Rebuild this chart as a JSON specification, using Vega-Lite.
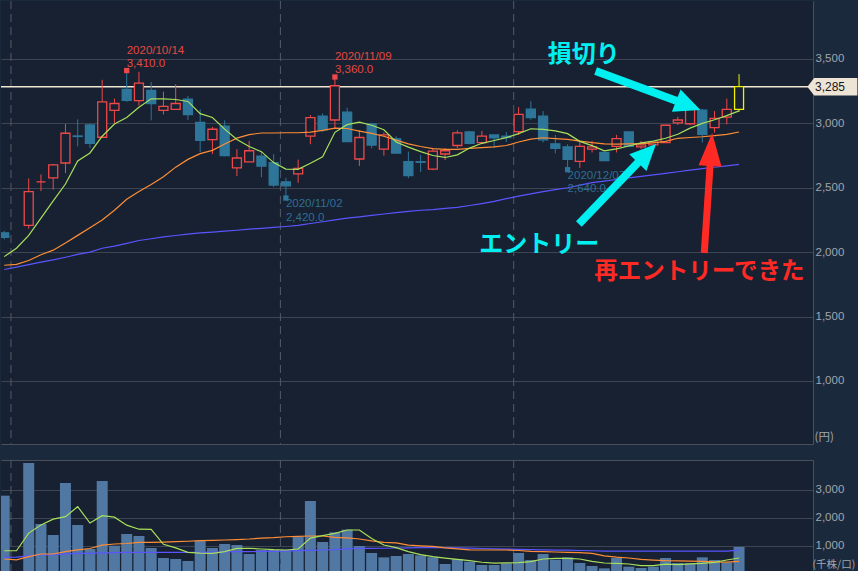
{
  "$schema": "https://vega.github.io/schema/vega-lite/v6.json",
  "background": "#1b293c",
  "padding": 0,
  "spacing": 14,
  "config": {
    "view": {"fill": "#172131", "stroke": null},
    "font": "Liberation Sans",
    "axis": {"labelFont": "Liberation Sans", "titleFont": "Noto Sans CJK JP"}
  },
  "datasets": {
    "bars": [
      {"i":0,"d":"2020-09-30","o":2150,"h":2165,"l":2100,"c":2115,"dir":"down","v":2797,"m5":1965,"m25":1898,"m75":1865,"vm5":830,"vm25":536,"vm75":595},
      {"i":1,"d":"2020-10-01","o":null,"h":null,"l":null,"c":null,"dir":null,"v":null,"m5":2030,"m25":1905,"m75":1884,"vm5":830,"vm25":505,"vm75":600},
      {"i":2,"d":"2020-10-02","o":2208,"h":2572,"l":2182,"c":2469,"dir":"up","v":3964,"m5":2130,"m25":1935,"m75":1903,"vm5":1460,"vm25":620,"vm75":650},
      {"i":3,"d":"2020-10-05","o":2546,"h":2603,"l":2474,"c":2546,"dir":"up","v":1786,"m5":2264,"m25":1980,"m75":1922,"vm5":1750,"vm25":714,"vm75":679},
      {"i":4,"d":"2020-10-06","o":2577,"h":2685,"l":2485,"c":2677,"dir":"up","v":1393,"m5":2398,"m25":2015,"m75":1940,"vm5":1960,"vm25":714,"vm75":679},
      {"i":5,"d":"2020-10-07","o":2692,"h":2995,"l":2613,"c":2923,"dir":"up","v":3250,"m5":2529,"m25":2070,"m75":1960,"vm5":2050,"vm25":800,"vm75":720},
      {"i":6,"d":"2020-10-08","o":2902,"h":3031,"l":2821,"c":2898,"dir":"down","v":1750,"m5":2708,"m25":2130,"m75":1982,"vm5":2404,"vm25":860,"vm75":738},
      {"i":7,"d":"2020-10-09","o":2987,"h":2997,"l":2808,"c":2844,"dir":"down","v":893,"m5":2770,"m25":2190,"m75":2000,"vm5":1821,"vm25":910,"vm75":740},
      {"i":8,"d":"2020-10-12","o":2892,"h":3338,"l":2885,"c":3167,"dir":"up","v":3321,"m5":2900,"m25":2250,"m75":2030,"vm5":2083,"vm25":1030,"vm75":755},
      {"i":9,"d":"2020-10-13","o":3100,"h":3192,"l":3000,"c":3154,"dir":"up","v":1012,"m5":2995,"m25":2325,"m75":2046,"vm5":2030,"vm25":1071,"vm75":762},
      {"i":10,"d":"2020-10-14","o":3264,"h":3410,"l":3167,"c":3179,"dir":"down","v":1428,"m5":3045,"m25":2410,"m75":2068,"vm5":1745,"vm25":1090,"vm75":770},
      {"i":11,"d":"2020-10-15","o":3177,"h":3400,"l":3138,"c":3313,"dir":"up","v":1357,"m5":3125,"m25":2470,"m75":2090,"vm5":1600,"vm25":1131,"vm75":774},
      {"i":12,"d":"2020-10-16","o":3256,"h":3321,"l":3023,"c":3154,"dir":"down","v":928,"m5":3190,"m25":2525,"m75":2104,"vm5":1595,"vm25":1131,"vm75":774},
      {"i":13,"d":"2020-10-19","o":3100,"h":3246,"l":3069,"c":3131,"dir":"up","v":571,"m5":3190,"m25":2585,"m75":2118,"vm5":1060,"vm25":1140,"vm75":774},
      {"i":14,"d":"2020-10-20","o":3108,"h":3303,"l":3105,"c":3154,"dir":"up","v":536,"m5":3185,"m25":2660,"m75":2129,"vm5":935,"vm25":1155,"vm75":774},
      {"i":15,"d":"2020-10-21","o":3187,"h":3213,"l":3026,"c":3067,"dir":"down","v":464,"m5":3170,"m25":2720,"m75":2140,"vm5":774,"vm25":1170,"vm75":774},
      {"i":16,"d":"2020-10-22","o":3008,"h":3108,"l":2777,"c":2867,"dir":"down","v":1190,"m5":3075,"m25":2765,"m75":2149,"vm5":745,"vm25":1190,"vm75":774},
      {"i":17,"d":"2020-10-23","o":2874,"h":2972,"l":2762,"c":2954,"dir":"up","v":928,"m5":3045,"m25":2790,"m75":2156,"vm5":738,"vm25":1200,"vm75":780},
      {"i":18,"d":"2020-10-26","o":2979,"h":3023,"l":2744,"c":2749,"dir":"down","v":1071,"m5":2955,"m25":2840,"m75":2163,"vm5":800,"vm25":1214,"vm75":790},
      {"i":19,"d":"2020-10-27","o":2654,"h":2800,"l":2590,"c":2731,"dir":"up","v":1036,"m5":2875,"m25":2885,"m75":2170,"vm5":916,"vm25":1230,"vm75":797},
      {"i":20,"d":"2020-10-28","o":2700,"h":2864,"l":2700,"c":2787,"dir":"up","v":714,"m5":2820,"m25":2912,"m75":2178,"vm5":920,"vm25":1250,"vm75":800},
      {"i":21,"d":"2020-10-29","o":2746,"h":2782,"l":2582,"c":2667,"dir":"down","v":857,"m5":2780,"m25":2925,"m75":2185,"vm5":893,"vm25":1280,"vm75":805},
      {"i":22,"d":"2020-10-30","o":2695,"h":2762,"l":2505,"c":2521,"dir":"down","v":857,"m5":2695,"m25":2925,"m75":2192,"vm5":870,"vm25":1297,"vm75":809},
      {"i":23,"d":"2020-11-02","o":2546,"h":2577,"l":2420,"c":2515,"dir":"down","v":857,"m5":2645,"m25":2927,"m75":2199,"vm5":857,"vm25":1330,"vm75":820},
      {"i":24,"d":"2020-11-04","o":2608,"h":2718,"l":2538,"c":2651,"dir":"up","v":1333,"m5":2643,"m25":2927,"m75":2208,"vm5":893,"vm25":1345,"vm75":833},
      {"i":25,"d":"2020-11-05","o":2900,"h":3064,"l":2838,"c":3044,"dir":"up","v":2607,"m5":2690,"m25":2932,"m75":2222,"vm5":1280,"vm25":1357,"vm75":845},
      {"i":26,"d":"2020-11-06","o":3056,"h":3077,"l":2933,"c":2949,"dir":"down","v":1143,"m5":2740,"m25":2945,"m75":2236,"vm5":1369,"vm25":1357,"vm75":857},
      {"i":27,"d":"2020-11-09","o":3026,"h":3360,"l":2962,"c":3292,"dir":"up","v":1488,"m5":2930,"m25":2963,"m75":2251,"vm5":1450,"vm25":1309,"vm75":869},
      {"i":28,"d":"2020-11-10","o":3087,"h":3121,"l":2855,"c":2859,"dir":"down","v":1583,"m5":2990,"m25":2960,"m75":2264,"vm5":1571,"vm25":1290,"vm75":900},
      {"i":29,"d":"2020-11-11","o":2723,"h":2946,"l":2669,"c":2890,"dir":"up","v":1000,"m5":3010,"m25":2940,"m75":2274,"vm5":1571,"vm25":1250,"vm75":916},
      {"i":30,"d":"2020-11-12","o":2995,"h":3005,"l":2805,"c":2831,"dir":"down","v":750,"m5":2985,"m25":2922,"m75":2286,"vm5":1270,"vm25":1180,"vm75":916},
      {"i":31,"d":"2020-11-13","o":2800,"h":2928,"l":2749,"c":2910,"dir":"up","v":595,"m5":2950,"m25":2900,"m75":2296,"vm5":1036,"vm25":1131,"vm75":920},
      {"i":32,"d":"2020-11-16","o":2880,"h":2900,"l":2765,"c":2769,"dir":"down","v":643,"m5":2855,"m25":2870,"m75":2306,"vm5":940,"vm25":1110,"vm75":928},
      {"i":33,"d":"2020-11-17","o":2703,"h":2780,"l":2574,"c":2595,"dir":"down","v":714,"m5":2815,"m25":2840,"m75":2316,"vm5":800,"vm25":1030,"vm75":935},
      {"i":34,"d":"2020-11-18","o":2702,"h":2754,"l":2623,"c":2698,"dir":"down","v":667,"m5":2780,"m25":2820,"m75":2325,"vm5":690,"vm25":1005,"vm75":945},
      {"i":35,"d":"2020-11-19","o":2644,"h":2808,"l":2636,"c":2785,"dir":"up","v":600,"m5":2750,"m25":2803,"m75":2330,"vm5":620,"vm25":988,"vm75":952},
      {"i":36,"d":"2020-11-20","o":2762,"h":2808,"l":2715,"c":2787,"dir":"up","v":357,"m5":2735,"m25":2798,"m75":2340,"vm5":570,"vm25":930,"vm75":945},
      {"i":37,"d":"2020-11-24","o":2828,"h":2946,"l":2808,"c":2926,"dir":"up","v":536,"m5":2755,"m25":2798,"m75":2348,"vm5":520,"vm25":900,"vm75":935},
      {"i":38,"d":"2020-11-25","o":2933,"h":2941,"l":2838,"c":2844,"dir":"down","v":440,"m5":2808,"m25":2805,"m75":2362,"vm5":475,"vm25":865,"vm75":925},
      {"i":39,"d":"2020-11-26","o":2851,"h":2941,"l":2838,"c":2900,"dir":"up","v":321,"m5":2845,"m25":2812,"m75":2377,"vm5":420,"vm25":857,"vm75":910},
      {"i":40,"d":"2020-11-27","o":2910,"h":2912,"l":2808,"c":2887,"dir":"down","v":321,"m5":2867,"m25":2818,"m75":2394,"vm5":385,"vm25":857,"vm75":900},
      {"i":41,"d":"2020-11-30","o":2900,"h":2933,"l":2856,"c":2890,"dir":"down","v":381,"m5":2889,"m25":2828,"m75":2415,"vm5":395,"vm25":857,"vm75":890},
      {"i":42,"d":"2020-12-01","o":2936,"h":3126,"l":2910,"c":3069,"dir":"up","v":750,"m5":2920,"m25":2855,"m75":2435,"vm5":405,"vm25":840,"vm75":880},
      {"i":43,"d":"2020-12-02","o":3110,"h":3172,"l":3028,"c":3044,"dir":"down","v":500,"m5":2958,"m25":2878,"m75":2452,"vm5":440,"vm25":809,"vm75":870},
      {"i":44,"d":"2020-12-03","o":3056,"h":3095,"l":2851,"c":2872,"dir":"down","v":714,"m5":2953,"m25":2888,"m75":2470,"vm5":536,"vm25":800,"vm75":860},
      {"i":45,"d":"2020-12-04","o":2841,"h":2910,"l":2767,"c":2805,"dir":"down","v":512,"m5":2941,"m25":2882,"m75":2485,"vm5":560,"vm25":785,"vm75":855},
      {"i":46,"d":"2020-12-07","o":2818,"h":2838,"l":2640,"c":2721,"dir":"down","v":595,"m5":2920,"m25":2875,"m75":2500,"vm5":560,"vm25":774,"vm75":850},
      {"i":47,"d":"2020-12-08","o":2705,"h":2856,"l":2654,"c":2821,"dir":"up","v":393,"m5":2860,"m25":2862,"m75":2520,"vm5":536,"vm25":760,"vm75":840},
      {"i":48,"d":"2020-12-09","o":2800,"h":2864,"l":2774,"c":2818,"dir":"up","v":286,"m5":2827,"m25":2850,"m75":2539,"vm5":452,"vm25":735,"vm75":830},
      {"i":49,"d":"2020-12-10","o":2774,"h":2776,"l":2708,"c":2710,"dir":"down","v":202,"m5":2787,"m25":2841,"m75":2552,"vm5":393,"vm25":650,"vm75":815},
      {"i":50,"d":"2020-12-11","o":2821,"h":2910,"l":2774,"c":2882,"dir":"up","v":571,"m5":2802,"m25":2838,"m75":2564,"vm5":381,"vm25":600,"vm75":815},
      {"i":51,"d":"2020-12-14","o":2933,"h":2936,"l":2818,"c":2821,"dir":"down","v":262,"m5":2824,"m25":2840,"m75":2576,"vm5":357,"vm25":571,"vm75":815},
      {"i":52,"d":"2020-12-15","o":2818,"h":2864,"l":2800,"c":2833,"dir":"up","v":214,"m5":2848,"m25":2843,"m75":2588,"vm5":298,"vm25":520,"vm75":815},
      {"i":53,"d":"2020-12-16","o":2833,"h":2856,"l":2826,"c":2854,"dir":"up","v":262,"m5":2862,"m25":2848,"m75":2600,"vm5":298,"vm25":495,"vm75":815},
      {"i":54,"d":"2020-12-17","o":2851,"h":2987,"l":2848,"c":2985,"dir":"up","v":571,"m5":2884,"m25":2860,"m75":2612,"vm5":350,"vm25":476,"vm75":815},
      {"i":55,"d":"2020-12-18","o":3003,"h":3051,"l":2987,"c":3026,"dir":"up","v":393,"m5":2915,"m25":2884,"m75":2624,"vm5":333,"vm25":470,"vm75":815},
      {"i":56,"d":"2020-12-21","o":2997,"h":3172,"l":2985,"c":3133,"dir":"up","v":381,"m5":2963,"m25":2890,"m75":2636,"vm5":360,"vm25":460,"vm75":815},
      {"i":57,"d":"2020-12-22","o":3103,"h":3113,"l":2851,"c":2915,"dir":"down","v":595,"m5":3000,"m25":2896,"m75":2648,"vm5":381,"vm25":452,"vm75":815},
      {"i":58,"d":"2020-12-23","o":2967,"h":3095,"l":2928,"c":3038,"dir":"up","v":500,"m5":3028,"m25":2905,"m75":2659,"vm5":417,"vm25":430,"vm75":815},
      {"i":59,"d":"2020-12-24","o":3049,"h":3192,"l":2992,"c":3108,"dir":"up","v":417,"m5":3060,"m25":2915,"m75":2670,"vm5":500,"vm25":425,"vm75":815},
      {"i":60,"d":"2020-12-25","o":3108,"h":3382,"l":3090,"c":3285,"dir":"cur","v":964,"m5":3097,"m25":2933,"m75":2682,"vm5":571,"vm25":452,"vm75":850}
    ],
    "ann": [
      {"i":10,"p":3410,"date":"2020/10/14","val":"3,410.0","kind":"high"},
      {"i":27,"p":3360,"date":"2020/11/09","val":"3,360.0","kind":"high"},
      {"i":23,"p":2420,"date":"2020/11/02","val":"2,420.0","kind":"low"},
      {"i":46,"p":2640,"date":"2020/12/07","val":"2,640.0","kind":"low"}
    ],
    "months": [{"i":0.55},{"i":22.55},{"i":41.6}],
    "notes": [
      {"i":47.32,"p":3531,"t":"損切り","kind":"cyan"},
      {"i":43.69,"p":2056,"t":"エントリー","kind":"cyan"},
      {"i":56.76,"p":1846,"t":"再エントリーできた","kind":"red"}
    ],
    "arrows": [
      {"a":1,"i":48.29,"p":3406.5,"i2":55.86,"p2":3140.2},
      {"a":2,"i":46.92,"p":2218.6,"i2":52.48,"p2":2767.6},
      {"a":3,"i":57.16,"p":1993.5,"i2":57.72,"p2":2797}
    ],
    "last": [{"p":3285,"label":"3,285","tagI":67.62,"textI":66.2}]
  },
  "vconcat": [
    {
      "width": 812,
      "height": 443,
      "encoding": {
        "x": {"type": "quantitative", "scale": {"domain": [0.145, 65.63], "nice": false, "zero": false},
          "axis": {"orient": "bottom", "labels": false, "ticks": false, "grid": false, "title": null, "domain": true, "domainColor": "#48505c"}},
        "y": {"type": "quantitative", "scale": {"domain": [510, 3950], "nice": false, "zero": false},
          "axis": {"orient": "right", "values": [1000, 1500, 2000, 2500, 3000, 3500], "format": ",.0f", "grid": true, "gridColor": "#3d4553",
            "ticks": false, "tickSize": 0, "domain": true, "domainColor": "#48505c", "labelColor": "#a0a6ae", "labelFontSize": 11.5,
            "labelPadding": 2, "title": "(円)", "titleAngle": 0, "titleAlign": "left", "titleBaseline": "middle", "titleX": 1, "titleY": 436,
            "titleColor": "#a0a6ae", "titleFontSize": 11.5, "titleFontWeight": "normal", "titleLimit": 300}}
      },
      "layer": [
        {
          "data": {"name": "months"},
          "mark": {"type": "rule", "color": "#525b69", "strokeDash": [8, 5], "strokeWidth": 1},
          "encoding": {"x": {"field": "i"}, "y": null}
        },
        {
          "data": {"name": "last"},
          "mark": {"type": "rule", "color": "#f0e6d2", "strokeWidth": 1.5},
          "encoding": {"y": {"field": "p"}, "x": null}
        },
        {
          "data": {"name": "bars"},
          "mark": {"type": "line", "color": "#5a55ff", "strokeWidth": 1.2, "clip": true},
          "encoding": {"x": {"field": "i"}, "y": {"field": "m75"}}
        },
        {
          "data": {"name": "bars"},
          "transform": [{"filter": "datum.o != null"}],
          "mark": {"type": "rule", "strokeWidth": 1, "clip": true},
          "encoding": {
            "x": {"field": "i"},
            "y": {"field": "l"},
            "y2": {"field": "h"},
            "stroke": {"field": "dir", "type": "nominal", "scale": {"domain": ["up", "down", "cur"], "range": ["#f04848", "#2e7699", "#f2f200"]}, "legend": null}
          }
        },
        {
          "data": {"name": "bars"},
          "transform": [{"filter": "datum.o != null"}],
          "mark": {"type": "bar", "size": 9, "strokeWidth": 1.3, "clip": true},
          "encoding": {
            "x": {"field": "i"},
            "y": {"field": "o"},
            "y2": {"field": "c"},
            "stroke": {"field": "dir", "type": "nominal", "scale": {"domain": ["up", "down", "cur"], "range": ["#f04848", "#2e7699", "#f2f200"]}, "legend": null},
            "fill": {"field": "dir", "type": "nominal", "scale": {"domain": ["up", "down", "cur"], "range": ["#172131", "#2e7699", "#172131"]}, "legend": null}
          }
        },
        {
          "data": {"name": "bars"},
          "mark": {"type": "line", "color": "#ff8d35", "strokeWidth": 1.2, "clip": true},
          "encoding": {"x": {"field": "i"}, "y": {"field": "m25"}}
        },
        {
          "data": {"name": "bars"},
          "mark": {"type": "line", "color": "#a9e05b", "strokeWidth": 1.2, "clip": true},
          "encoding": {"x": {"field": "i"}, "y": {"field": "m5"}}
        },
        {
          "data": {"name": "ann"},
          "transform": [{"filter": "datum.kind == 'high'"}],
          "mark": {"type": "point", "shape": "square", "filled": true, "size": 28, "color": "#f04848", "opacity": 1},
          "encoding": {"x": {"field": "i"}, "y": {"field": "p"}}
        },
        {
          "data": {"name": "ann"},
          "transform": [{"filter": "datum.kind == 'low'"}],
          "mark": {"type": "point", "shape": "square", "filled": true, "size": 28, "color": "#2e7699", "opacity": 1},
          "encoding": {"x": {"field": "i"}, "y": {"field": "p"}}
        },
        {
          "data": {"name": "ann"},
          "transform": [{"filter": "datum.kind == 'high'"}],
          "mark": {"type": "text", "align": "left", "baseline": "middle", "dy": -19.5, "fontSize": 11.5, "color": "#e5483f"},
          "encoding": {"x": {"field": "i"}, "y": {"field": "p"}, "text": {"field": "date", "type": "nominal"}}
        },
        {
          "data": {"name": "ann"},
          "transform": [{"filter": "datum.kind == 'high'"}],
          "mark": {"type": "text", "align": "left", "baseline": "middle", "dy": -6.5, "fontSize": 11.5, "color": "#e5483f"},
          "encoding": {"x": {"field": "i"}, "y": {"field": "p"}, "text": {"field": "val", "type": "nominal"}}
        },
        {
          "data": {"name": "ann"},
          "transform": [{"filter": "datum.kind == 'low'"}],
          "mark": {"type": "text", "align": "left", "baseline": "middle", "dy": 6, "fontSize": 11.5, "color": "#2e6f93"},
          "encoding": {"x": {"field": "i"}, "y": {"field": "p"}, "text": {"field": "date", "type": "nominal"}}
        },
        {
          "data": {"name": "ann"},
          "transform": [{"filter": "datum.kind == 'low'"}],
          "mark": {"type": "text", "align": "left", "baseline": "middle", "dy": 19.5, "fontSize": 11.5, "color": "#2e6f93"},
          "encoding": {"x": {"field": "i"}, "y": {"field": "p"}, "text": {"field": "val", "type": "nominal"}}
        },
        {
          "data": {"name": "arrows"},
          "transform": [{"filter": "datum.a != 3"}],
          "mark": {"type": "rule", "color": "#00f0f2", "strokeWidth": 8, "strokeCap": "butt"},
          "encoding": {"x": {"field": "i"}, "y": {"field": "p"}, "x2": {"field": "i2"}, "y2": {"field": "p2"}}
        },
        {
          "data": {"name": "arrows"},
          "transform": [{"filter": "datum.a == 3"}],
          "mark": {"type": "rule", "color": "#ff2a24", "strokeWidth": 7, "strokeCap": "butt"},
          "encoding": {"x": {"field": "i"}, "y": {"field": "p"}, "x2": {"field": "i2"}, "y2": {"field": "p2"}}
        },
        {
          "data": {"name": "arrows"},
          "transform": [{"filter": "datum.a == 1"}],
          "mark": {"type": "point", "shape": "M0,-1L0.92,1L-0.92,1Z", "filled": true, "size": 676, "angle": 111.3, "color": "#00f0f2", "opacity": 1},
          "encoding": {"x": {"field": "i2"}, "y": {"field": "p2"}}
        },
        {
          "data": {"name": "arrows"},
          "transform": [{"filter": "datum.a == 2"}],
          "mark": {"type": "point", "shape": "M0,-1L0.92,1L-0.92,1Z", "filled": true, "size": 676, "angle": 44.3, "color": "#00f0f2", "opacity": 1},
          "encoding": {"x": {"field": "i2"}, "y": {"field": "p2"}}
        },
        {
          "data": {"name": "arrows"},
          "transform": [{"filter": "datum.a == 3"}],
          "mark": {"type": "point", "shape": "M0,-1L0.7,1L-0.7,1Z", "filled": true, "size": 1089, "angle": 3.8, "color": "#ff2a24", "opacity": 1},
          "encoding": {"x": {"field": "i2"}, "y": {"field": "p2"}}
        },
        {
          "data": {"name": "notes"},
          "transform": [{"filter": "datum.kind == 'cyan'"}],
          "mark": {"type": "text", "font": "Noto Sans CJK JP", "fontWeight": "bold", "fontSize": 24, "align": "center", "baseline": "middle", "color": "#00f0f2"},
          "encoding": {"x": {"field": "i"}, "y": {"field": "p"}, "text": {"field": "t", "type": "nominal"}}
        },
        {
          "data": {"name": "notes"},
          "transform": [{"filter": "datum.kind == 'red'"}],
          "mark": {"type": "text", "font": "Noto Sans CJK JP", "fontWeight": "bold", "fontSize": 23.5, "align": "center", "baseline": "middle", "color": "#ff2a24"},
          "encoding": {"x": {"field": "i"}, "y": {"field": "p"}, "text": {"field": "t", "type": "nominal"}}
        },
        {
          "data": {"name": "last"},
          "mark": {"type": "point", "shape": "M-1,0L-0.73,-0.35L1,-0.35L1,0.35L-0.73,0.35Z", "filled": true, "size": 2500, "color": "#ede4d5", "opacity": 1, "clip": false},
          "encoding": {"x": {"field": "tagI"}, "y": {"field": "p"}}
        },
        {
          "data": {"name": "last"},
          "mark": {"type": "text", "align": "left", "baseline": "middle", "fontSize": 12, "color": "#151515", "clip": false},
          "encoding": {"x": {"field": "textI"}, "y": {"field": "p"}, "text": {"field": "label", "type": "nominal"}}
        }
      ]
    },
    {
      "width": 812,
      "height": 114,
      "encoding": {
        "x": {"type": "quantitative", "scale": {"domain": [0.145, 65.63], "nice": false, "zero": false},
          "axis": {"orient": "top", "labels": false, "ticks": false, "grid": false, "title": null, "domain": true, "domainColor": "#48505c"}},
        "y": {"type": "quantitative", "scale": {"domain": [0, 4071], "nice": false},
          "axis": {"orient": "right", "values": [1000, 2000, 3000], "format": ",.0f", "grid": true, "gridColor": "#3d4553",
            "ticks": false, "tickSize": 0, "domain": true, "domainColor": "#48505c", "labelColor": "#a0a6ae", "labelFontSize": 11.5,
            "labelPadding": 2, "title": "(千株/口)", "titleAngle": 0, "titleAlign": "left", "titleBaseline": "middle", "titleX": -1, "titleY": 104,
            "titleColor": "#a0a6ae", "titleFontSize": 10.5, "titleFontWeight": "normal", "titleLimit": 300}}
      },
      "layer": [
        {
          "data": {"name": "months"},
          "mark": {"type": "rule", "color": "#525b69", "strokeDash": [8, 5], "strokeWidth": 1},
          "encoding": {"x": {"field": "i"}, "y": null}
        },
        {
          "data": {"name": "bars"},
          "transform": [{"filter": "datum.v != null"}],
          "mark": {"type": "bar", "size": 11, "color": "#5177a3", "clip": true},
          "encoding": {"x": {"field": "i"}, "y": {"field": "v"}}
        },
        {
          "data": {"name": "bars"},
          "mark": {"type": "line", "color": "#5a55ff", "strokeWidth": 1.2, "clip": true},
          "encoding": {"x": {"field": "i"}, "y": {"field": "vm75"}}
        },
        {
          "data": {"name": "bars"},
          "mark": {"type": "line", "color": "#ff8d35", "strokeWidth": 1.2, "clip": true},
          "encoding": {"x": {"field": "i"}, "y": {"field": "vm25"}}
        },
        {
          "data": {"name": "bars"},
          "mark": {"type": "line", "color": "#a9e05b", "strokeWidth": 1.2, "clip": true},
          "encoding": {"x": {"field": "i"}, "y": {"field": "vm5"}}
        }
      ]
    }
  ]
}
